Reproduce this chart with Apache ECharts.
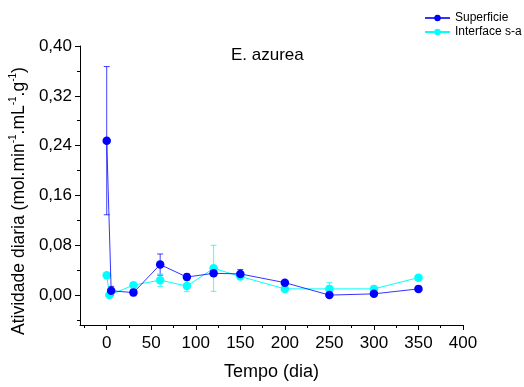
<!DOCTYPE html>
<html><head><meta charset="utf-8">
<script src="https://cdn.jsdelivr.net/npm/echarts@6/dist/echarts.min.js"></script>
<style>html,body{margin:0;padding:0;background:#fff}#c{width:524px;height:387px}</style>
</head><body><div id="c"></div>
<script>
const supX   = [0, 5, 30, 60, 90, 120, 150, 200, 250, 300, 350];
const supY   = [0.248, 0.007, 0.004, 0.049, 0.029, 0.035, 0.034, 0.020, 0.000, 0.002, 0.010];
const supErr = [0.119, 0.007, 0.005, 0.017, 0.005, 0.004, 0.007, 0.002, 0.002, 0.002, 0.002];
const intX   = [0, 3, 30, 60, 90, 120, 150, 200, 250, 300, 350];
const intY   = [0.032, 0.000, 0.016, 0.024, 0.0145, 0.043, 0.030, 0.010, 0.010, 0.010, 0.028];
const intErr = [0.000, 0.001, 0.003, 0.010, 0.009, 0.037, 0.004, 0.003, 0.010, 0.002, 0.004];
const xMajor = [0, 50, 100, 150, 200, 250, 300, 350, 400];
const xMinor = [-25, 25, 75, 125, 175, 225, 275, 325, 375];
const yMajor = [0, 0.08, 0.16, 0.24, 0.32, 0.40];
const yMinor = [-0.04, 0.04, 0.12, 0.20, 0.28, 0.36];

const FONT = 'Liberation Sans, Arial, sans-serif';
const BLUE = '#0000ff', CYAN = '#00ffff';

function errSeries(xs, ys, es, color) {
  return {
    type: 'custom', xAxisIndex: 0, yAxisIndex: 0, silent: true, z: 1,
    data: xs.map((x, i) => [x, ys[i] - es[i], ys[i] + es[i]]),
    renderItem: function (params, api) {
      const lo = api.coord([api.value(0), api.value(1)]);
      const hi = api.coord([api.value(0), api.value(2)]);
      const w = 3;
      const st = { stroke: color, lineWidth: 1, opacity: 0.75 };
      return { type: 'group', children: [
        { type: 'line', shape: { x1: lo[0], y1: lo[1], x2: hi[0], y2: hi[1] }, style: st },
        { type: 'line', shape: { x1: lo[0]-w, y1: lo[1], x2: lo[0]+w, y2: lo[1] }, style: st },
        { type: 'line', shape: { x1: hi[0]-w, y1: hi[1], x2: hi[0]+w, y2: hi[1] }, style: st }
      ]};
    }
  };
}

const chart = echarts.init(document.getElementById('c'));
const axisCommon = { lineStyle: { color: '#000', width: 1 } };
chart.setOption({
  animation: false,
  textStyle: { fontFamily: FONT },
  grid: { left: 80, right: 61, top: 46, bottom: 62 },
  legend: {
    orient: 'vertical', left: 419, top: 7, itemGap: 2, itemWidth: 25, itemHeight: 8,
    textStyle: { fontSize: 12, color: '#000', fontFamily: FONT },
    data: ['Superficie', 'Interface s-a']
  },
  graphic: [
    { type: 'text', left: 231, top: 47, style: { text: 'E. azurea', fontSize: 17, fill: '#000', fontFamily: FONT } },
    { type: 'text', x: 18, y: 201, rotation: Math.PI / 2,
      style: {
        text: '{a|Atividade diaria (mol.min}{s|-1}{a|.mL}{s|-1}{a|.g}{s|-1}{a|)}',
        align: 'center', verticalAlign: 'middle', fill: '#000', fontFamily: FONT,
        rich: { a: { fontSize: 17.5, fill: '#000', fontFamily: FONT, lineHeight: 20, verticalAlign: 'bottom' },
                s: { fontSize: 10, fill: '#000', fontFamily: FONT, lineHeight: 20, verticalAlign: 'top' } }
      } }
  ],
  xAxis: [{
    type: 'value', min: -30, max: 400, position: 'bottom',
    axisLine: { show: true, onZero: false, ...axisCommon },
    axisTick: { show: true, inside: false, length: 5, customValues: xMajor, lineStyle: { color: '#000' } },
    axisLabel: { customValues: xMajor, fontSize: 17, color: '#000', margin: 10, fontFamily: FONT },
    splitLine: { show: false },
    name: 'Tempo (dia)', nameLocation: 'middle', nameGap: 38,
    nameTextStyle: { fontSize: 18, color: '#000', fontFamily: FONT }
  }, {
    type: 'value', min: -30, max: 400, position: 'bottom',
    axisLine: { show: false, onZero: false },
    axisTick: { show: true, length: 3, customValues: xMinor, lineStyle: { color: '#000' } },
    axisLabel: { show: false }, splitLine: { show: false }
  }],
  yAxis: [{
    type: 'value', min: -0.048, max: 0.40, position: 'left',
    axisLine: { show: true, onZero: false, ...axisCommon },
    axisTick: { show: true, length: 5, customValues: yMajor, lineStyle: { color: '#000' } },
    axisLabel: { customValues: yMajor, fontSize: 17, color: '#000', margin: 8, fontFamily: FONT,
      formatter: v => v.toFixed(2).replace('.', ',') },
    splitLine: { show: false }
  }, {
    type: 'value', min: -0.048, max: 0.40, position: 'left',
    axisLine: { show: false, onZero: false },
    axisTick: { show: true, length: 3, customValues: yMinor, lineStyle: { color: '#000' } },
    axisLabel: { show: false }, splitLine: { show: false }
  }],
  series: [
    errSeries(supX, supY, supErr, BLUE),
    errSeries(intX, intY, intErr, CYAN),
    { name: 'Superficie', type: 'line', xAxisIndex: 0, yAxisIndex: 0, z: 3,
      data: supX.map((x, i) => [x, supY[i]]),
      symbol: 'circle', symbolSize: 8.5, itemStyle: { color: BLUE },
      lineStyle: { color: BLUE, width: 1, opacity: 0.8 } },
    { name: 'Interface s-a', type: 'line', xAxisIndex: 0, yAxisIndex: 0, z: 2,
      data: intX.map((x, i) => [x, intY[i]]),
      symbol: 'circle', symbolSize: 8.5, itemStyle: { color: CYAN },
      lineStyle: { color: CYAN, width: 1 } }
  ]
});
</script></body></html>
